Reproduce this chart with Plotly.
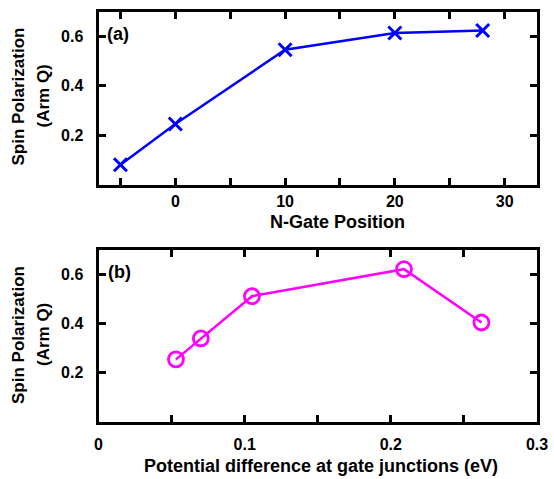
import plotly.graph_objects as go

# Panel (a)
gate_pos = [-5, 0, 10, 20, 28]
spin_a = [0.08, 0.245, 0.545, 0.613, 0.623]

# Panel (b)
pot_diff = [0.053, 0.070, 0.105, 0.209, 0.262]
spin_b = [0.255, 0.340, 0.512, 0.622, 0.405]

xa_ticks = [-5, 0, 5, 10, 15, 20, 25, 30]
xa_text = ["", "0", "", "10", "", "20", "", "30"]
xb_ticks = [0, 0.05, 0.1, 0.15, 0.2, 0.25, 0.3]
xb_text = ["0", "", "0.1", "", "0.2", "", "0.3"]
y_ticks = [0.2, 0.4, 0.6]
y_text = ["0.2", "0.4", "0.6"]

FONT = "Liberation Sans, Arial, sans-serif"
fig = go.Figure()

fig.add_trace(go.Scatter(
    x=gate_pos, y=spin_a, mode="lines+markers",
    line=dict(color="#0000ff", width=2.5),
    marker=dict(symbol="x-thin", size=13, line=dict(color="#0000ff", width=3), color="#0000ff"),
    xaxis="x", yaxis="y", showlegend=False))

fig.add_trace(go.Scatter(
    x=pot_diff, y=spin_b, mode="lines+markers",
    line=dict(color="#ff00ff", width=2.5),
    marker=dict(symbol="circle-open", size=15, line=dict(color="#ff00ff", width=2.8), color="#ff00ff"),
    xaxis="x2", yaxis="y2", showlegend=False))

axis_common = dict(
    showline=True, linecolor="black", linewidth=3, mirror="allticks",
    ticks="inside", ticklen=7, tickwidth=3, tickcolor="black",
    showgrid=False, zeroline=False, automargin=False,
    tickfont=dict(family=FONT, size=16, color="black", weight="bold"),
)

W, H = 554, 479
X0, X1 = 98.5, 537
fig.update_layout(
    width=W, height=H,
    paper_bgcolor="white", plot_bgcolor="white",
    margin=dict(l=0, r=0, t=0, b=0, pad=0, autoexpand=False),
    font=dict(family=FONT, color="black"),
    xaxis=dict(domain=[X0 / W, X1 / W], range=[-7.0, 32.95], anchor="y",
               tickmode="array", tickvals=xa_ticks, ticktext=xa_text,
               ticklabelstandoff=0, **axis_common),
    yaxis=dict(domain=[1 - 184.5 / H, 1 - 11.5 / H], range=[0, 0.7], anchor="x",
               tickmode="array", tickvals=y_ticks, ticktext=y_text,
               ticklabelstandoff=9, **axis_common),
    xaxis2=dict(domain=[X0 / W, X1 / W], range=[0, 0.3], anchor="y2",
                tickmode="array", tickvals=xb_ticks, ticktext=xb_text,
                ticklabelstandoff=6, **axis_common),
    yaxis2=dict(domain=[1 - 422 / H, 1 - 250 / H], range=[0, 0.7], anchor="x2",
                tickmode="array", tickvals=y_ticks, ticktext=y_text,
                ticklabelstandoff=9, **axis_common),
)


def ann(text, x, y, angle=0, size=18):
    return dict(text=text, x=x / W, y=1 - y / H, xref="paper", yref="paper",
                showarrow=False, textangle=angle,
                font=dict(family=FONT, size=size, color="black", weight="bold"),
                xanchor="center", yanchor="middle")


annots = [
    ann("N-Gate Position", 337, 221.5),
    ann("Potential difference at gate junctions (eV)", 321, 466),
    ann("Spin Polarization", 18, 96.5, -90, 17),
    ann("(Arm Q)", 43, 96.5, -90, 17),
    ann("Spin Polarization", 18, 335, -90, 17),
    ann("(Arm Q)", 43, 335, -90, 17),
    ann("(a)", 117.5, 34, 0, 18),
    ann("(b)", 119, 272, 0, 18),
]
fig.update_layout(annotations=annots)

fig.write_html("out.html", config={"displayModeBar": False},
               post_script="document.body.style.margin='0';document.body.style.overflow='hidden';")
